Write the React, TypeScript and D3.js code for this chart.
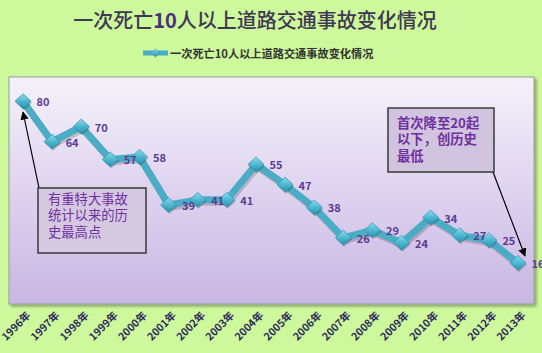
import React from "react";
import * as d3 from "d3";

const years = ["1996年","1997年","1998年","1999年","2000年","2001年","2002年","2003年","2004年","2005年","2006年","2007年","2008年","2009年","2010年","2011年","2012年","2013年"];
const values = [80, 64, 70, 57, 58, 39, 41, 41, 55, 47, 38, 26, 29, 24, 34, 27, 25, 16];
const titleParts = ["一次死亡", "10", "人以上道路交通事故变化情况"];
const seriesName = "一次死亡10人以上道路交通事故变化情况";
const note1 = ["有重特大事故", "统计以来的历", "史最高点"];
const note2 = ["首次降至20起", "以下，创历史", "最低"];

const W = 542, H = 353;
const plot = { left: 9, top: 77, right: 534, bottom: 304 };
const font = "'Noto Sans CJK SC', 'Noto Sans', sans-serif";

export default function App() {
  const x = d3.scalePoint<string>().domain(years).range([23, 518]);
  const y = d3.scaleLinear().domain([0, 90]).range([303.5, 76]);
  const line = d3.line<number>().x((_, i) => x(years[i])!).y(d => y(d));
  const pts = values.map((v, i) => ({ v, cx: x(years[i])!, cy: y(v) }));
  const diamond = (cx: number, cy: number, w = 8, h = 7.5) =>
    `M${cx},${cy - h}L${cx + w},${cy}L${cx},${cy + h}L${cx - w},${cy}Z`;

  return (
    <svg width={W} height={H} style={{ position: "absolute", left: 0, top: 0 }} fontFamily={font}>
      <defs>
        <linearGradient id="plotBg" x1="0" y1="0" x2="0" y2="1">
          <stop offset="0" stopColor="#f5f2fa" />
          <stop offset="0.55" stopColor="#dcd0ee" />
          <stop offset="1" stopColor="#c8b7e2" />
        </linearGradient>
        <linearGradient id="mk" x1="0" y1="0" x2="0" y2="1">
          <stop offset="0" stopColor="#8adcef" />
          <stop offset="0.5" stopColor="#4db7d0" />
          <stop offset="1" stopColor="#2a8fab" />
        </linearGradient>
        <marker id="arr" viewBox="0 0 10 10" refX="9" refY="5" markerWidth="7" markerHeight="7" orient="auto-start-reverse">
          <path d="M0,0L10,5L0,10Z" fill="#000" />
        </marker>
        <filter id="sh" x="-5%" y="-5%" width="110%" height="120%">
          <feGaussianBlur in="SourceAlpha" stdDeviation="1.5" />
          <feOffset dx="1.5" dy="2" result="o" />
          <feComponentTransfer><feFuncA type="linear" slope="0.35" /></feComponentTransfer>
          <feMerge><feMergeNode /><feMergeNode in="SourceGraphic" /></feMerge>
        </filter>
      </defs>
      <rect x={0} y={0} width={W} height={H} fill="#cdf89c" />
      {/* title */}
      <text x={255} y={28} textAnchor="middle" fontSize={20} fontWeight={500} fill="#3f3753">
        <tspan>{titleParts[0]}</tspan>
        <tspan fontWeight="bold" fill="#4d2f7e">{titleParts[1]}</tspan>
        <tspan>{titleParts[2]}</tspan>
      </text>
      {/* legend */}
      <line x1={143} x2={168} y1={53} y2={53} stroke="#4bacc6" strokeWidth={5} />
      <path d={diamond(155.5, 53, 4.5, 4)} fill="url(#mk)" stroke="#3a9ab4" strokeWidth={0.5} />
      <text x={170} y={53} dominantBaseline="central" fontSize={11.2} fontWeight="bold" fill="#333">{seriesName}</text>
      {/* plot area */}
      <rect x={plot.left} y={plot.top} width={plot.right - plot.left} height={plot.bottom - plot.top}
        fill="url(#plotBg)" stroke="#9c9c9c" strokeWidth={1} filter="url(#sh)" />
      {/* series */}
      <path d={line(values)!} fill="none" stroke="#000" strokeOpacity={0.18} strokeWidth={7} transform="translate(1.5,2.5)" strokeLinejoin="round" />
      <path d={line(values)!} fill="none" stroke="#4bacc6" strokeWidth={7} strokeLinejoin="round" />
      {pts.map((p, i) => (
        <g key={i}>
          <path d={diamond(p.cx + 1, p.cy + 1.5)} fill="#000" fillOpacity={0.2} />
          <path d={diamond(p.cx, p.cy)} fill="url(#mk)" stroke="#3597b2" strokeWidth={0.8} />
        </g>
      ))}
      {pts.map((p, i) => (
        <text key={"l" + i} x={p.cx + 20} y={p.cy} textAnchor="middle" dominantBaseline="central"
          fontSize={11} fontWeight="bold" fill="#5a3c92">{p.v}</text>
      ))}
      {/* x axis labels */}
      {years.map((yr, i) => (
        <text key={yr} transform={`translate(${x(yr)! + 5},${313}) rotate(-45)`} textAnchor="end"
          dominantBaseline="central" fontSize={10.5} fontWeight="bold" fill="#2f2a5c">{yr}</text>
      ))}
      {/* annotations */}
      <line x1={39} y1={188} x2={23} y2={112} stroke="#000" strokeWidth={1.2} markerEnd="url(#arr)" />
      <rect x={38} y={188} width={108} height={65} fill="#d4c9e1" stroke="#3a3a3a" strokeWidth={1.5} />
      {note1.map((t, i) => (
        <text key={t} x={48} y={198 + i * 16.7} dominantBaseline="central" fontSize={13.3} fill="#7030a0">{t}</text>
      ))}
      <line x1={493} y1={172} x2={525} y2={256} stroke="#000" strokeWidth={1.2} markerEnd="url(#arr)" />
      <rect x={388} y={108} width={106} height={64} fill="#d0c4de" stroke="#3a3a3a" strokeWidth={1.5} />
      {note2.map((t, i) => (
        <text key={t} x={397} y={122 + i * 16.7} dominantBaseline="central" fontSize={13.3} fontWeight="bold" fill="#7030a0">{t}</text>
      ))}
    </svg>
  );
}
